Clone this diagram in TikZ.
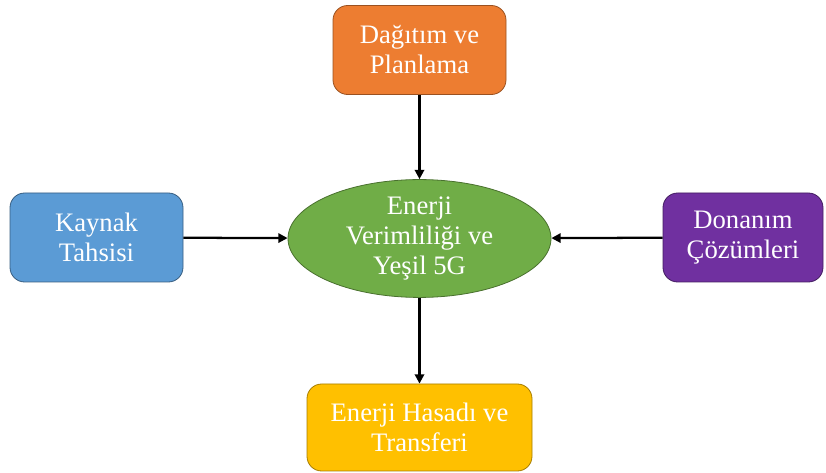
\documentclass[tikz,border=0pt]{standalone}
\usepackage{fontspec}
\setmainfont{Liberation Serif}
\usetikzlibrary{shapes,arrows.meta,positioning}
\definecolor{planorange}{HTML}{ED7D31}
\definecolor{kaynakblue}{HTML}{5B9BD5}
\definecolor{yesilgreen}{HTML}{70AD47}
\definecolor{donanimpurple}{HTML}{7030A0}
\definecolor{hasatgold}{HTML}{FFC000}

\begin{document}
\begin{tikzpicture}[x=0.75pt, y=-0.75pt]
\tikzstyle{block} = [rectangle, draw, text=white, align=center, rounded corners=11pt, inner sep=0pt, minimum height=66.75pt, font=\fontsize{20}{22.5}\selectfont, line width=0.6pt]
\tikzstyle{hub} = [ellipse, draw, text=white, align=center, inner sep=0pt, minimum width=197.25pt, minimum height=87.75pt, font=\fontsize{20}{22.5}\selectfont, line width=0.6pt]
\tikzstyle{line} = [draw, line width=1.7pt, -{Triangle[length=7pt,width=7pt]}]

\useasboundingbox (0,0) rectangle (826,473);

\node [hub, fill=yesilgreen, draw=yesilgreen!65!black] (yesil) at (419.5,238.5) {Enerji\\Verimliliği ve\\Yeşil 5G};
\node [block, fill=planorange, draw=planorange!65!black, minimum width=129.75pt] (plan) at (419.5,50) {Dağıtım ve\\Planlama};
\node [block, fill=kaynakblue, draw=kaynakblue!60!black, minimum width=129.75pt] (kaynak) at (96.5,237.5) {Kaynak\\Tahsisi};
\node [block, fill=donanimpurple, draw=donanimpurple!60!black, minimum width=120pt] (donanim) at (743,237.5) {Donanım\\Çözümleri};
\node [block, fill=hasatgold, draw=hasatgold!65!black, minimum width=168.75pt, minimum height=65.25pt] (hasat) at (419.5,427.5) {Enerji Hasadı ve\\Transferi};

\path [line] (plan) -- (yesil);
\path [line] (kaynak) -- (yesil);
\path [line] (donanim) -- (yesil);
\path [line] (yesil) -- (hasat);

\end{tikzpicture}
\end{document}
